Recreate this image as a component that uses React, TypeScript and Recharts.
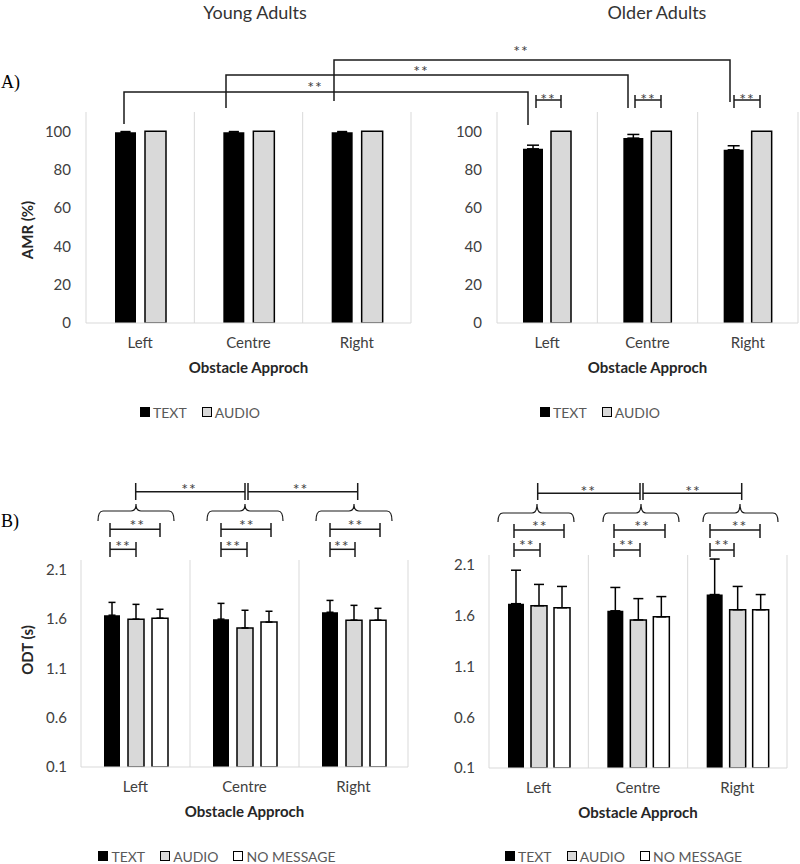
import React from 'react';
import { BarChart, Bar, XAxis, YAxis, CartesianGrid, ErrorBar, Legend } from 'recharts';

// ---------- data ----------
const categories = ['Left', 'Centre', 'Right'];

// Panel A: AMR (%)
const amrYoungText = [99.4, 99.5, 99.4];
const amrYoungTextErr = [0.4, 0.3, 0.4];
const amrYoungAudio = [100, 100, 100];
const amrOlderText = [90.8, 96.4, 90.3];
const amrOlderTextErr = [1.9, 1.9, 2.1];
const amrOlderAudio = [100, 100, 100];
const amrTicks = [0, 20, 40, 60, 80, 100];
const amrDomain: [number, number] = [0, 110];

// Panel B: ODT (s)
const odtYoungText = [1.64, 1.6, 1.67];
const odtYoungTextErr = [0.13, 0.16, 0.12];
const odtYoungAudio = [1.6, 1.51, 1.59];
const odtYoungAudioErr = [0.15, 0.18, 0.15];
const odtYoungNoMsg = [1.61, 1.57, 1.59];
const odtYoungNoMsgErr = [0.09, 0.11, 0.12];
const odtOlderText = [1.72, 1.65, 1.81];
const odtOlderTextErr = [0.33, 0.23, 0.35];
const odtOlderAudio = [1.7, 1.56, 1.66];
const odtOlderAudioErr = [0.21, 0.21, 0.23];
const odtOlderNoMsg = [1.68, 1.59, 1.66];
const odtOlderNoMsgErr = [0.21, 0.2, 0.15];
const odtTicks = [0.1, 0.6, 1.1, 1.6, 2.1];
const odtDomain: [number, number] = [0.1, 2.2];

const groupTitles = ['Young Adults', 'Older Adults'];
const panelLabels = ['A)', 'B)'];
const xAxisTitle = 'Obstacle Approch';
const yTitleA = 'AMR (%)';
const yTitleB = 'ODT (s)';
const seriesNames = ['TEXT', 'AUDIO', 'NO MESSAGE'];
const sig = '**';

// ---------- styles ----------
const FONT = 'Lato, "Open Sans", "DejaVu Sans", sans-serif';
const C_TEXT = '#000000';
const C_AUDIO = '#d9d9d9';
const C_NOMSG = '#ffffff';
const GRID = '#d9d9d9';
const TICK_FS = 15;
const TITLE_FS = 15;

const amrRows = (t: number[], te: number[], a: number[]) =>
  categories.map((c, i) => ({ cat: c, text: t[i], textErr: [0, te[i]], audio: a[i] }));
const odtRows = (t: number[], te: number[], a: number[], ae: number[], n: number[], ne: number[]) =>
  categories.map((c, i) => ({
    cat: c,
    text: t[i], textErr: [0, te[i]],
    audio: a[i], audioErr: [0, ae[i]],
    nomsg: n[i], nomsgErr: [0, ne[i]],
  }));

const gridGen = (args: any) => {
  const o = args.offset;
  return [o.left, o.left + o.width / 3, o.left + (2 * o.width) / 3, o.left + o.width];
};

const makeXLabel = (text: string) => (props: any) => {
  const vb = props.viewBox;
  if (!vb) return null;
  return (
    <text x={vb.x + vb.width / 2} y={vb.y + 50} textAnchor="middle" fontFamily={FONT} fontSize={TITLE_FS} fontWeight={700} fill="#262626">
      {text}
    </text>
  );
};

const makeYLabel = (text: string, cx: number, dy: number) => (props: any) => {
  const vb = props.viewBox;
  if (!vb) return null;
  const cy = vb.y + vb.height / 2 + dy;
  return (
    <text x={cx} y={cy} transform={`rotate(-90 ${cx} ${cy})`} textAnchor="middle" dominantBaseline="central" fontFamily={FONT} fontSize={TITLE_FS} fontWeight={700} fill="#262626">
      {text}
    </text>
  );
};

type LegendItem = { label: string; fill: string };
const makeLegend = (items: LegendItem[], h: number) => () => (
  <div style={{ display: 'flex', justifyContent: 'center', alignItems: 'center', height: h, fontFamily: FONT, fontSize: 14, color: '#595959', whiteSpace: 'nowrap' }}>
    {items.map((it, i) => (
      <span key={i} style={{ display: 'inline-flex', alignItems: 'center', marginLeft: i ? 15 : 0 }}>
        <span style={{ display: 'inline-block', width: 10, height: 10, background: it.fill, border: '1.5px solid #000', boxSizing: 'border-box' }} />
        <span style={{ marginLeft: 3 }}>{it.label}</span>
      </span>
    ))}
  </div>
);

type Series = { key: string; errKey?: string; fill: string; stroke?: string; errHalf?: number };

interface PanelProps {
  rows: any[];
  series: Series[];
  left: number; top: number; width: number; height: number;
  margin: { top: number; right: number; bottom: number; left: number };
  xHeight: number;
  domain: [number, number];
  ticks: number[];
  fmt?: (v: number) => string;
  barSize: number; barGap: number; yTickMargin: number;
  yLabel?: any;
  legendItems: LegendItem[]; legendLeft: number; legendWidth: number; legendHeight: number;
}

function Panel(p: PanelProps) {
  return (
    <div style={{ position: 'absolute', left: p.left, top: p.top, width: p.width, height: p.height }}>
      <BarChart width={p.width} height={p.height} data={p.rows} margin={p.margin} barSize={p.barSize} barGap={p.barGap}>
        <CartesianGrid horizontal={false} vertical stroke={GRID} verticalCoordinatesGenerator={gridGen} />
        <XAxis
          dataKey="cat"
          height={p.xHeight}
          tickLine={false}
          tickSize={0}
          tickMargin={14}
          interval={0}
          axisLine={{ stroke: GRID }}
          tick={{ fontSize: TICK_FS, fill: '#404040', fontFamily: FONT }}
          label={makeXLabel(xAxisTitle)}
        />
        <YAxis
          width={60}
          type="number"
          domain={p.domain}
          ticks={p.ticks}
          allowDataOverflow
          tickLine={false}
          tickSize={0}
          tickMargin={p.yTickMargin}
          axisLine={false}
          tick={{ fontSize: TICK_FS, fill: '#404040', fontFamily: FONT }}
          tickFormatter={p.fmt}
          label={p.yLabel}
        />
        <Legend verticalAlign="bottom" content={makeLegend(p.legendItems, p.legendHeight)} wrapperStyle={{ left: p.legendLeft, width: p.legendWidth }} />
        {p.series.map((s) => (
          <Bar key={s.key} dataKey={s.key} fill={s.fill} stroke={s.stroke || 'none'} strokeWidth={s.stroke ? 1.5 : 0} isAnimationActive={false}>
            {s.errKey ? <ErrorBar dataKey={s.errKey} width={s.errHalf || 4} stroke="#000" strokeWidth={1.5} direction="y" /> : null}
          </Bar>
        ))}
      </BarChart>
    </div>
  );
}

// ---------- annotation geometry (page pixels) ----------
const longBracketsA = [
  { x1: 124, x2: 528, y: 92, l1: 124, l2: 125, sx: 315, sy: 84 },
  { x1: 226, x2: 628, y: 75, l1: 108, l2: 108, sx: 421, sy: 68 },
  { x1: 334, x2: 730, y: 60, l1: 101, l2: 102, sx: 521, sy: 48 },
];
const smallBracketsA = [
  { x1: 536, x2: 561, y: 100, t1: 95, t2: 108, sx: 548, sy: 96 },
  { x1: 635, x2: 661, y: 100, t1: 95, t2: 108, sx: 648, sy: 96 },
  { x1: 734, x2: 760, y: 100, t1: 95, t2: 108, sx: 747, sy: 96 },
];
const tickBracketsB = [
  // top connectors
  { x1: 135.7, x2: 245, y: 491.7, t1: 483, t2: 500, sx: 189, sy: 486.5 },
  { x1: 248, x2: 357.7, y: 491.7, t1: 483, t2: 500, sx: 300.5, sy: 486.5 },
  { x1: 537.7, x2: 640, y: 493.3, t1: 483, t2: 500, sx: 588.3, sy: 488 },
  { x1: 643, x2: 741.7, y: 493.3, t1: 483, t2: 500, sx: 693, sy: 488 },
  // inner upper
  { x1: 110, x2: 160, y: 529.3, t1: 523, t2: 537, sx: 137.3, sy: 522.7 },
  { x1: 221, x2: 271, y: 529.3, t1: 523, t2: 537, sx: 246.7, sy: 522.7 },
  { x1: 330, x2: 380, y: 529.3, t1: 523, t2: 537, sx: 355.5, sy: 522.7 },
  { x1: 514, x2: 564, y: 530, t1: 524, t2: 538, sx: 539.7, sy: 523.3 },
  { x1: 614, x2: 665, y: 530, t1: 524, t2: 538, sx: 642, sy: 523.3 },
  { x1: 710, x2: 760, y: 530, t1: 524, t2: 538, sx: 739.5, sy: 523.3 },
  // inner lower
  { x1: 110, x2: 136, y: 549.3, t1: 542, t2: 557, sx: 123, sy: 543 },
  { x1: 221, x2: 247, y: 549.3, t1: 542, t2: 557, sx: 233.3, sy: 543 },
  { x1: 330, x2: 355, y: 549.3, t1: 542, t2: 557, sx: 341.7, sy: 543 },
  { x1: 514, x2: 540, y: 550, t1: 543, t2: 557, sx: 526.7, sy: 542.7 },
  { x1: 614, x2: 640, y: 550, t1: 543, t2: 557, sx: 626.7, sy: 542.7 },
  { x1: 710, x2: 734, y: 550, t1: 543, t2: 557, sx: 722, sy: 542.7 },
];
const bracesB = [
  { x1: 98, x2: 174, c: 136, top: 511, tip: 521, peak: 504 },
  { x1: 207, x2: 283, c: 245, top: 511, tip: 521, peak: 504 },
  { x1: 316, x2: 392, c: 354, top: 511, tip: 521, peak: 504 },
  { x1: 498, x2: 574, c: 537, top: 513, tip: 522, peak: 504 },
  { x1: 603, x2: 679, c: 641, top: 513, tip: 522, peak: 504 },
  { x1: 703, x2: 778, c: 740, top: 513, tip: 522, peak: 504 },
];

const LINE = '#1a1a1a';
const STAR = '#404040';

function Star({ x, y }: { x: number; y: number }) {
  return (
    <text x={x} y={y + 8.5} textAnchor="middle" fontFamily={FONT} fontSize={16} fill={STAR} letterSpacing={1}>
      {sig}
    </text>
  );
}

function Overlay() {
  return (
    <svg width={800} height={864} style={{ position: 'absolute', left: 0, top: 0, pointerEvents: 'none' }}>
      <text x={255} y={19} textAnchor="middle" fontFamily={FONT} fontSize={18} fill="#333">{groupTitles[0]}</text>
      <text x={657} y={19} textAnchor="middle" fontFamily={FONT} fontSize={18} fill="#333">{groupTitles[1]}</text>
      <text x={1} y={88} fontFamily='"Liberation Serif", "DejaVu Serif", serif' fontSize={18} fill="#000">{panelLabels[0]}</text>
      <text x={1} y={527} fontFamily='"Liberation Serif", "DejaVu Serif", serif' fontSize={18} fill="#000">{panelLabels[1]}</text>
      {longBracketsA.map((b, i) => (
        <g key={'l' + i}>
          <path d={`M${b.x1},${b.l1} L${b.x1},${b.y} L${b.x2},${b.y} L${b.x2},${b.l2}`} fill="none" stroke={LINE} strokeWidth={1.5} />
          <Star x={b.sx} y={b.sy} />
        </g>
      ))}
      {[...smallBracketsA, ...tickBracketsB].map((b, i) => (
        <g key={'s' + i}>
          <line x1={b.x1} y1={b.y} x2={b.x2} y2={b.y} stroke={LINE} strokeWidth={1.5} />
          <line x1={b.x1} y1={b.t1} x2={b.x1} y2={b.t2} stroke={LINE} strokeWidth={1.5} />
          <line x1={b.x2} y1={b.t1} x2={b.x2} y2={b.t2} stroke={LINE} strokeWidth={1.5} />
          <Star x={b.sx} y={b.sy} />
        </g>
      ))}
      {bracesB.map((b, i) => (
        <path
          key={'b' + i}
          d={`M${b.x1},${b.tip} Q${b.x1},${b.top} ${b.x1 + 5},${b.top} L${b.c - 5},${b.top} Q${b.c},${b.top} ${b.c},${b.peak} Q${b.c},${b.top} ${b.c + 5},${b.top} L${b.x2 - 5},${b.top} Q${b.x2},${b.top} ${b.x2},${b.tip}`}
          fill="none"
          stroke={LINE}
          strokeWidth={1.2}
        />
      ))}
    </svg>
  );
}

const fmt1 = (v: number) => v.toFixed(1);

export default function App() {
  const legendA: LegendItem[] = [
    { label: seriesNames[0], fill: C_TEXT },
    { label: seriesNames[1], fill: C_AUDIO },
  ];
  const legendB: LegendItem[] = [...legendA, { label: seriesNames[2], fill: C_NOMSG }];
  const seriesA = (half: number): Series[] => [
    { key: 'text', errKey: 'textErr', fill: C_TEXT, errHalf: half },
    { key: 'audio', fill: C_AUDIO, stroke: '#000' },
  ];
  const seriesB = (half: number): Series[] => [
    { key: 'text', errKey: 'textErr', fill: C_TEXT, errHalf: half },
    { key: 'audio', errKey: 'audioErr', fill: C_AUDIO, stroke: '#000', errHalf: half },
    { key: 'nomsg', errKey: 'nomsgErr', fill: C_NOMSG, stroke: '#000', errHalf: half },
  ];
  return (
    <div style={{ position: 'absolute', left: 0, top: 0, width: 800, height: 864, background: '#fff', overflow: 'hidden', fontFamily: FONT }}>
      <Panel
        rows={amrRows(amrYoungText, amrYoungTextErr, amrYoungAudio)}
        series={seriesA(5)}
        left={0} top={0} width={420} height={430}
        margin={{ top: 112, right: 9, bottom: 8, left: 26 }}
        xHeight={79}
        domain={amrDomain} ticks={amrTicks}
        barSize={21} barGap={9} yTickMargin={15}
        yLabel={makeYLabel(yTitleA, 27, 12.5)}
        legendItems={legendA} legendLeft={0} legendWidth={400} legendHeight={20}
      />
      <Panel
        rows={amrRows(amrOlderText, amrOlderTextErr, amrOlderAudio)}
        series={seriesA(6)}
        left={420} top={0} width={380} height={430}
        margin={{ top: 112, right: 2, bottom: 8, left: 17 }}
        xHeight={79}
        domain={amrDomain} ticks={amrTicks}
        barSize={20} barGap={8} yTickMargin={15}
        legendItems={legendA} legendLeft={0} legendWidth={360} legendHeight={20}
      />
      <Panel
        rows={odtRows(odtYoungText, odtYoungTextErr, odtYoungAudio, odtYoungAudioErr, odtYoungNoMsg, odtYoungNoMsgErr)}
        series={seriesB(3.5)}
        left={0} top={440} width={420} height={424}
        margin={{ top: 120, right: 12, bottom: 0, left: 21 }}
        xHeight={81}
        domain={odtDomain} ticks={odtTicks} fmt={fmt1}
        barSize={16} barGap={8} yTickMargin={14}
        yLabel={makeYLabel(yTitleB, 27, -13.5)}
        legendItems={legendB} legendLeft={0} legendWidth={434} legendHeight={16}
      />
      <Panel
        rows={odtRows(odtOlderText, odtOlderTextErr, odtOlderAudio, odtOlderAudioErr, odtOlderNoMsg, odtOlderNoMsgErr)}
        series={seriesB(5)}
        left={420} top={440} width={380} height={424}
        margin={{ top: 115, right: 13, bottom: 0, left: 9 }}
        xHeight={80}
        domain={odtDomain} ticks={odtTicks} fmt={fmt1}
        barSize={16} barGap={7} yTickMargin={14}
        legendItems={legendB} legendLeft={53.5} legendWidth={300} legendHeight={16}
      />
      <Overlay />
    </div>
  );
}
